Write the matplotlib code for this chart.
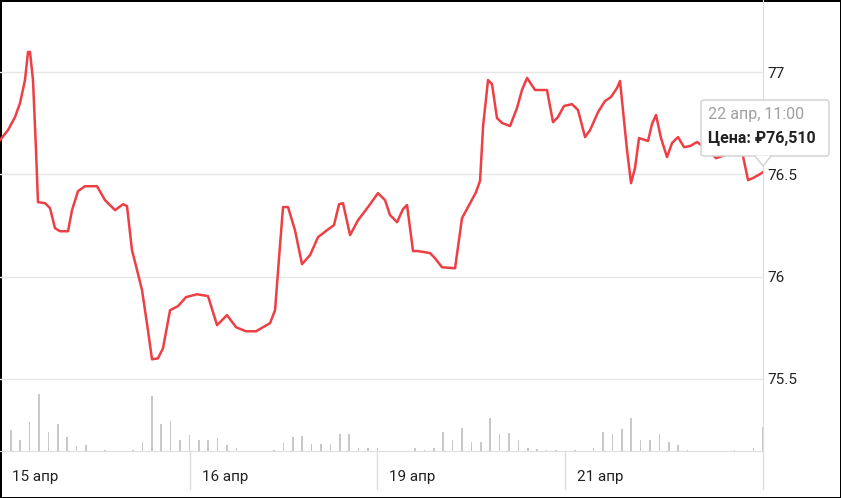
import matplotlib
matplotlib.use("Agg")
import matplotlib.pyplot as plt
from matplotlib.patches import Polygon, FancyBboxPatch

plt.rcParams['font.family'] = ['Roboto', 'DejaVu Sans']

hours = [-1.14,-0.29,0.46,0.99,1.52,1.84,2.05,2.37,2.69,2.90,3.65,4.18,4.71,5.24,6.10,6.52,7.16,7.90,9.18,10.03,11.10,11.95,12.37,12.90,13.44,13.97,14.60,15.03,15.67,16.20,16.95,17.80,18.65,19.82,
         20.99,21.95,23.01,23.97,25.03,26.10,27.59,28.12,28.65,28.97,29.50,30.24,30.99,31.84,32.69,33.65,34.39,34.93,35.35,36.10,36.95,38.01,39.07,39.82,40.35,41.10,41.73,42.16,42.80,43.33,44.61,45.14,45.88,47.27,48.01,48.65,49.50,49.93,50.25,50.78,51.20,51.73,52.27,53.12,53.86,54.39,54.93,55.78,57.05,57.69,58.22,58.86,59.71,60.35,61.10,61.63,62.48,63.22,63.86,64.50,64.82,65.24,65.56,65.99,66.41,66.84,67.80,68.22,68.65,69.18,69.82,70.35,70.99,71.63,72.27,73.01,74.18,75.03,75.99,76.84,77.59,78.44,78.97,79.71,80.03]
prices = [76.667,76.716,76.780,76.848,76.961,77.098,77.098,76.961,76.619,76.364,76.359,76.335,76.237,76.222,76.222,76.325,76.418,76.442,76.442,76.374,76.325,76.354,76.345,76.130,76.032,75.934,75.738,75.596,75.601,75.650,75.836,75.856,75.900,75.914,
          75.905,75.763,75.812,75.753,75.733,75.733,75.773,75.836,76.154,76.340,76.340,76.227,76.061,76.105,76.193,76.227,76.252,76.354,76.359,76.203,76.276,76.340,76.408,76.374,76.301,76.266,76.330,76.350,76.125,76.125,76.115,76.090,76.046,76.041,76.286,76.340,76.413,76.469,76.735,76.961,76.941,76.775,76.751,76.736,76.824,76.912,76.971,76.912,76.912,76.755,76.780,76.834,76.843,76.814,76.682,76.716,76.804,76.858,76.878,76.922,76.956,76.765,76.620,76.457,76.530,76.677,76.663,76.746,76.790,76.677,76.584,76.653,76.682,76.633,76.638,76.658,76.619,76.579,76.594,76.633,76.657,76.472,76.482,76.501,76.511]

volumes = [21,11,29,57,19,27,14,5,6,0,1,0,0,1,9,55,27,30,11,16,11,11,13,6,3,0,0,0,1,8,14,15,7,7,7,17,17,3,3,3,
           0,0,0,3,1,3,19,11,23,9,9,33,17,18,11,3,2,1,1,0,1,0,3,19,17,22,33,11,11,17,9,6,1,0,0,0,0,1,0,3,24]
day_starts = [-1.14, 19.07, 38.97, 58.97]
day_labels = ['15 апр', '16 апр', '19 апр', '21 апр']
yticks = [75.5, 76, 76.5, 77]

fig = plt.figure(figsize=(8.41, 4.98), dpi=100)
fig.patch.set_edgecolor('black'); fig.patch.set_linewidth(2)
ax = fig.add_axes([0, 47/498, 763/841, 451/498])

vx = ax.twinx()
vx.set_ylim(0, 451)
vx.bar(range(len(volumes)), volumes, width=0.17, color='#c8c8c8')
vx.set_yticks([])
for s in vx.spines.values():
    s.set_visible(False)
vx.set_zorder(0); ax.set_zorder(1); ax.patch.set_visible(False)

ax.set_xlim(-1.14, 80.03)
ax.set_ylim(75.148, 77.352)
for s in ['top', 'left']:
    ax.spines[s].set_visible(False)
ax.spines['right'].set_visible(True)
ax.spines['right'].set_color('#dddddd')
ax.spines['bottom'].set_color('#dddddd')
ax.yaxis.tick_right()
ax.yaxis.set_label_position('right')
ax.set_yticks(yticks)
ax.set_yticklabels(['75.5', '76', '76.5', '77'], fontsize=11, color='#222222')
ax.tick_params(axis='y', which='both', length=0, pad=3, left=False, labelleft=False, right=False, labelright=True)
ax.set_xticks([])
ax.grid(axis='y', color='#e6e6e6', linewidth=1)
ax.set_axisbelow(True)

ax.plot(hours, prices, color='#ee3f45', linewidth=1.8, solid_joinstyle='round')

for i, (d, lab) in enumerate(zip(day_starts, day_labels)):
    if i > 0:
        ax.plot([d, d], [0, -0.085], transform=ax.get_xaxis_transform(), color='#dddddd', lw=1, clip_on=False)
    ax.text(d + 1.3, -0.058, lab, transform=ax.get_xaxis_transform(), fontsize=11, va='center', ha='left', color='#222222')
ax.plot([80.03, 80.03], [0, -0.085], transform=ax.get_xaxis_transform(), color='#dddddd', lw=1, clip_on=False)

# tooltip
tx0, ty0 = 701/841, 1 - 156/498
box = FancyBboxPatch((tx0, ty0), 128/841, 56/498, boxstyle='round,pad=0,rounding_size=0.004',
                     transform=fig.transFigure, facecolor='white', edgecolor='#d0d0d0', lw=1, zorder=5)
fig.add_artist(box)
ptr = Polygon([(755/841, ty0 + 0.001), (771/841, ty0 + 0.001), (763/841, 1 - 166/498)], closed=True,
              transform=fig.transFigure, facecolor='white', edgecolor='none', zorder=6)
fig.add_artist(ptr)
fig.lines.append(plt.Line2D([755/841, 763/841, 771/841], [ty0, 1 - 166/498, ty0], transform=fig.transFigure, color='#d0d0d0', lw=1, zorder=7))
fig.text(708/841, 1 - 115/498, '22 апр, 11:00', fontsize=11.5, color='#a0a0a0', va='center', zorder=8)
fig.text(708/841, 1 - 138/498, 'Цена: ₽76,510', fontsize=11.5, color='#222222', fontweight='bold', va='center', zorder=8)

fig.savefig('out.png', dpi=100)
